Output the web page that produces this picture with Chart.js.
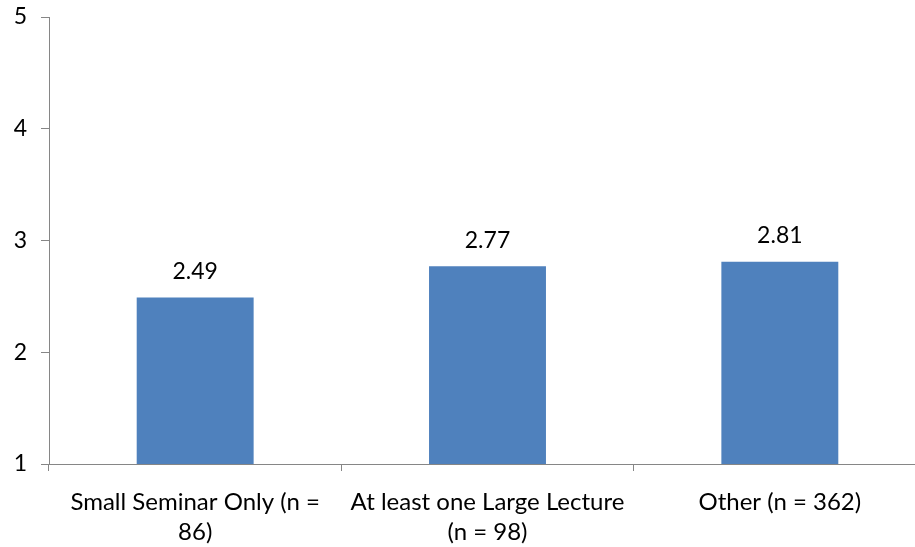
<!DOCTYPE html>
<html>
<head>
<meta charset="utf-8">
<script src="https://cdn.jsdelivr.net/npm/chart.js@4/dist/chart.umd.min.js"></script>
<style>
  html, body { margin: 0; padding: 0; background: #fff; overflow: hidden; }
  #wrap { width: 926px; height: 547px; }
</style>
</head>
<body>
<div id="wrap"><canvas id="chart"></canvas></div>
<script>
// categories (wrapped the same way as the original)
const categories = [
  ['Small Seminar Only (n =', '86)'],
  ['At least one Large Lecture', '(n = 98)'],
  'Other (n = 362)'
];
const meanScores = [2.49, 2.77, 2.81];
const yTicks = [1, 2, 3, 4, 5];

const FONT = 'Lato, "Open Sans", sans-serif';
const AXIS = '#868686';

// value labels above each bar
const barLabels = {
  id: 'barLabels',
  afterDatasetsDraw(chart) {
    const ctx = chart.ctx;
    const meta = chart.getDatasetMeta(0);
    ctx.save();
    ctx.font = '23px ' + FONT;
    ctx.fillStyle = '#000';
    ctx.textAlign = 'center';
    ctx.textBaseline = 'middle';
    meta.data.forEach((bar, i) => {
      ctx.fillText(meanScores[i].toFixed(2), bar.x, bar.y - 26);
    });
    ctx.restore();
  }
};

new Chart(document.getElementById('chart'), {
  type: 'bar',
  data: {
    labels: categories,
    datasets: [{
      data: meanScores,
      backgroundColor: '#4f81bd',
      barPercentage: 0.4,
      categoryPercentage: 1
    }]
  },
  plugins: [barLabels],
  options: {
    responsive: true,
    maintainAspectRatio: false,
    animation: false,
    layout: { padding: { top: 17, right: 0, left: 0, bottom: 0 } },
    plugins: {
      legend: { display: false },
      tooltip: { enabled: false }
    },
    scales: {
      y: {
        min: 1,
        max: 5,
        afterBuildTicks(scale) {
          scale.ticks = yTicks.map(v => ({ value: v }));
        },
        afterFit(scale) {
          scale.width = 49;
          scale.paddingTop = 0;
          scale.paddingBottom = 0;
        },
        border: { color: AXIS, width: 1 },
        grid: { drawOnChartArea: false, tickLength: 8, color: AXIS },
        ticks: { color: '#000', font: { family: FONT, size: 23 }, padding: 14 }
      },
      x: {
        afterFit(scale) {
          scale.height = 83;
          scale.paddingLeft = 0;
          scale.paddingRight = 0;
        },
        border: { color: AXIS, width: 1 },
        grid: { drawOnChartArea: false, tickLength: 7, color: AXIS, offset: true },
        ticks: { color: '#000', font: { family: FONT, size: 24, lineHeight: 1.25 }, padding: 16, maxRotation: 0, autoSkip: false }
      }
    }
  }
});
</script>
</body>
</html>
